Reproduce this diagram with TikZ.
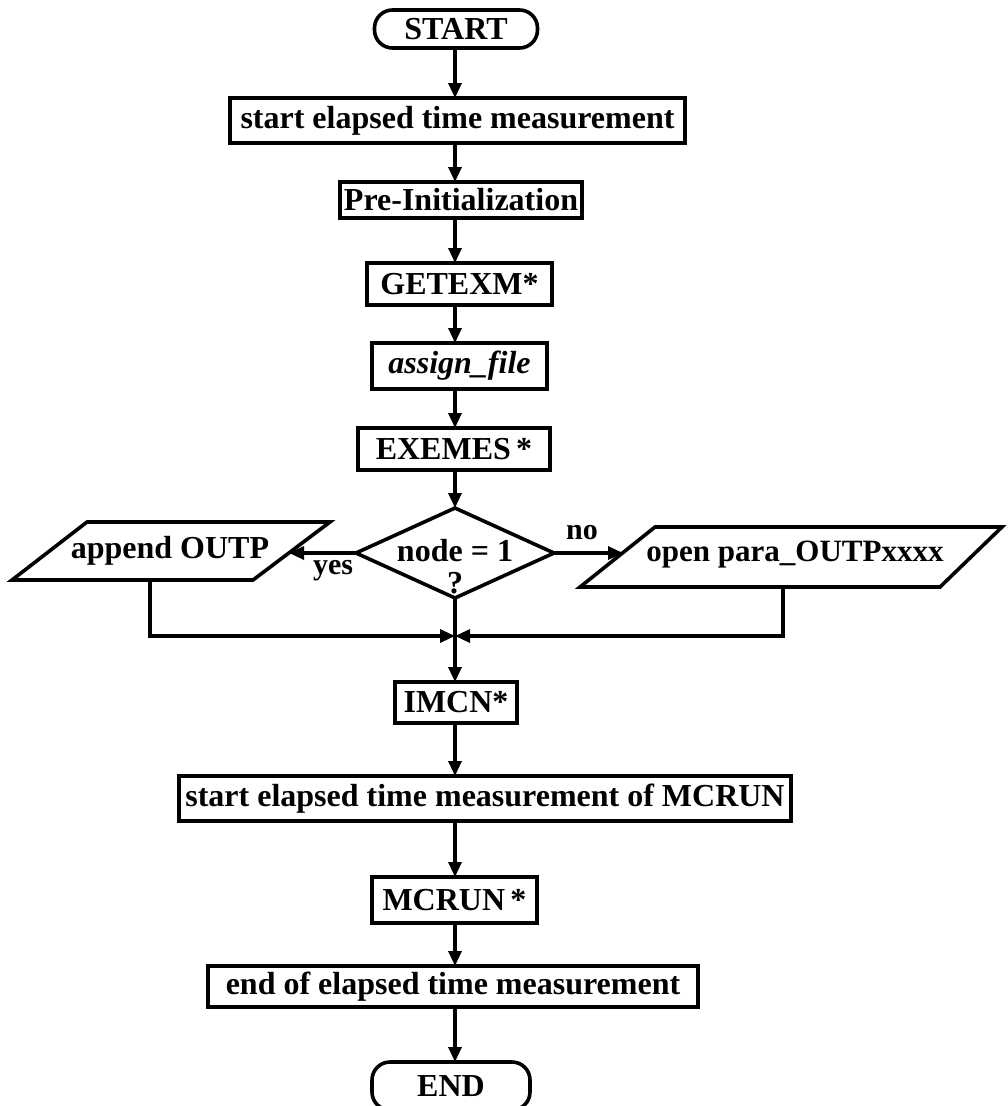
\documentclass[tikz,border=0pt]{standalone}
\usepackage{fontspec}
\setmainfont{Liberation Serif}
\usetikzlibrary{arrows.meta,shapes.geometric,calc}

\begin{document}
\begin{tikzpicture}[x=1pt,y=-1pt,
  every node/.style={inner sep=0pt,outer sep=0pt,font=\fontsize{32}{36}\selectfont\bfseries},
  procbox/.style={draw,line width=3.6pt,rectangle},
  termbox/.style={draw,line width=3.6pt,rectangle,rounded corners=18pt},
  decbox/.style={draw,line width=3.6pt,diamond},
  iobox/.style={line width=3.6pt,line join=miter},
  flow/.style={line width=3.2pt,-{Triangle[length=15pt,width=13pt]}},
  lbl/.style={font=\fontsize{30}{34}\selectfont\bfseries}]
\useasboundingbox (0,0) rectangle (1007,1106);

% vertical axis of the main flow
\coordinate (spine) at (455,0);

% main sequence
\node[termbox,minimum width=163,minimum height=38] (start) at (456,29) {START};
\node[procbox,minimum width=455,minimum height=45] (m1) at (457.5,120.5) {start elapsed time measurement};
\node[procbox,minimum width=242,minimum height=36] (pre) at (461,200) {Pre-Initialization};
\node[procbox,minimum width=185,minimum height=42] (getexm) at (459.5,284) {GETEXM*};
\node[procbox,minimum width=175,minimum height=46] (assign) at (459.5,366) {\itshape assign\_file};
\node[procbox,minimum width=192,minimum height=42] (exemes) at (454,449) {EXEMES\,*};

% decision
\node[decbox,minimum width=198,minimum height=90] (dec) at (455,553) {};
\node (decq) at (455,551) {node = 1};
\node (decm) at (455,583) {?};

% output branches (parallelograms)
\draw[iobox] (87,522) -- (330,522) -- (253,580) -- (12,580) -- cycle;
\node (app) at (170,551) {append OUTP};
\coordinate (appin) at (289,553);
\coordinate (appout) at (150,580);

\draw[iobox] (655,527) -- (1002,527) -- (940,587) -- (580,587) -- cycle;
\node (opn) at (795,555) {\fontsize{31}{34}\selectfont open para\_OUTPxxxx};
\coordinate (opnin) at (623,553);
\coordinate (opnout) at (783,587);

\coordinate (join) at (455,636);

\node[lbl] (yes) at (333,571) {yes};
\node[lbl] (no) at (582,533) {no};

% lower sequence
\node[procbox,minimum width=122,minimum height=41] (imcn) at (456,702.5) {IMCN*};
\node[procbox,minimum width=612,minimum height=45] (m2) at (485,798.5) {start elapsed time measurement of MCRUN};
\node[procbox,minimum width=165,minimum height=46] (mcrun) at (454.5,900) {MCRUN\,*};
\node[procbox,minimum width=490,minimum height=41] (m3) at (453,986.5) {end of elapsed time measurement};
\node[termbox,minimum width=158,minimum height=48] (end) at (451,1086) {END};

% connectors
\draw[flow] (spine |- start.south) -- (spine |- m1.north);
\draw[flow] (spine |- m1.south) -- (spine |- pre.north);
\draw[flow] (spine |- pre.south) -- (spine |- getexm.north);
\draw[flow] (spine |- getexm.south) -- (spine |- assign.north);
\draw[flow] (spine |- assign.south) -- (spine |- exemes.north);
\draw[flow] (spine |- exemes.south) -- (dec.north);
\draw[flow] (dec.west) -- (appin);
\draw[flow] (dec.east) -- (opnin);
\draw[line width=3.2pt] (dec.south) -- (join);
\draw[flow] (appout) |- (join);
\draw[flow] (opnout) |- (join);
\draw[flow] (join) -- (spine |- imcn.north);
\draw[flow] (spine |- imcn.south) -- (spine |- m2.north);
\draw[flow] (spine |- m2.south) -- (spine |- mcrun.north);
\draw[flow] (spine |- mcrun.south) -- (spine |- m3.north);
\draw[flow] (spine |- m3.south) -- (spine |- end.north);
\end{tikzpicture}
\end{document}
